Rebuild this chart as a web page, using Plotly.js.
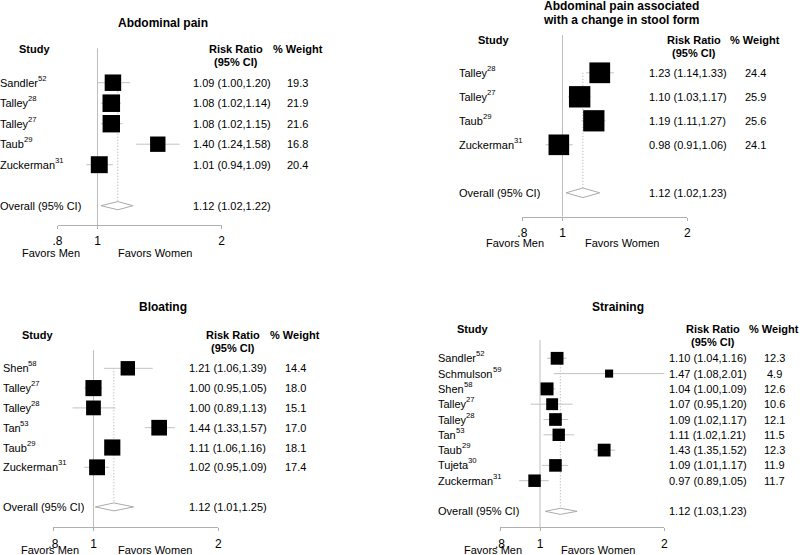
<!DOCTYPE html>
<html><head><meta charset="utf-8">
<script src="https://cdn.plot.ly/plotly-3.0.1.min.js"></script>
<style>html,body{margin:0;padding:0;background:#fff}#chart{width:800px;height:555px}</style>
</head><body><div id="chart"></div>
<script>
// ---------------- DATA ----------------
const tickVals = [0.8, 1, 2];
const tickText = ['.8', '1', '2'];
const nullValue = 1;

// Panel 1: Abdominal pain
const apStudies = ['Sandler', 'Talley', 'Talley', 'Taub', 'Zuckerman'];
const apRefs    = ['52', '28', '27', '29', '31'];
const apRR      = [1.09, 1.08, 1.08, 1.40, 1.01];
const apLo      = [1.00, 1.02, 1.02, 1.24, 0.94];
const apHi      = [1.20, 1.14, 1.15, 1.58, 1.09];
const apWeight  = [19.3, 21.9, 21.6, 16.8, 20.4];
const apOverall = [1.12, 1.02, 1.22];

// Panel 2: Abdominal pain associated with a change in stool form
const acStudies = ['Talley', 'Talley', 'Taub', 'Zuckerman'];
const acRefs    = ['28', '27', '29', '31'];
const acRR      = [1.23, 1.10, 1.19, 0.98];
const acLo      = [1.14, 1.03, 1.11, 0.91];
const acHi      = [1.33, 1.17, 1.27, 1.06];
const acWeight  = [24.4, 25.9, 25.6, 24.1];
const acOverall = [1.12, 1.02, 1.23];

// Panel 3: Bloating
const blStudies = ['Shen', 'Talley', 'Talley', 'Tan', 'Taub', 'Zuckerman'];
const blRefs    = ['58', '27', '28', '53', '29', '31'];
const blRR      = [1.21, 1.00, 1.00, 1.44, 1.11, 1.02];
const blLo      = [1.06, 0.95, 0.89, 1.33, 1.06, 0.95];
const blHi      = [1.39, 1.05, 1.13, 1.57, 1.16, 1.09];
const blWeight  = [14.4, 18.0, 15.1, 17.0, 18.1, 17.4];
const blOverall = [1.12, 1.01, 1.25];

// Panel 4: Straining
const stStudies = ['Sandler', 'Schmulson', 'Shen', 'Talley', 'Talley', 'Tan', 'Taub', 'Tujeta', 'Zuckerman'];
const stRefs    = ['52', '59', '58', '27', '28', '53', '29', '30', '31'];
const stRR      = [1.10, 1.47, 1.04, 1.07, 1.09, 1.11, 1.43, 1.09, 0.97];
const stLo      = [1.04, 1.08, 1.00, 0.95, 1.02, 1.02, 1.35, 1.01, 0.89];
const stHi      = [1.16, 2.01, 1.09, 1.20, 1.17, 1.21, 1.52, 1.17, 1.05];
const stWeight  = [12.3, 4.9, 12.6, 10.6, 12.1, 11.5, 12.3, 11.9, 11.7];
const stOverall = [1.12, 1.03, 1.23];

// ---------------- LAYOUT CONFIG (pixels) ----------------
const W = 800, H = 555;
const FONT = '"Liberation Sans", Arial, Helvetica, sans-serif';
const FS = 11, SUP_FS = 7.7;
const panels = [
  {title: ['Abdominal pain'], titleX: 163, titleY: [22.7],
   studies: apStudies, refs: apRefs, rr: apRR, lo: apLo, hi: apHi, w: apWeight, overall: apOverall,
   x0: 57.5, x1: 221.7, row1Y: 82.7, rowH: 20.5, axisY: 225, refTop: 48.3, box: 3.75,
   headY: 49.3, ciY: 62, studyX: 0, studyHX: 34, rrX: 192.7, rrHX: 235.5, wX: 297.5,
   favY: 253.3, menX: 50.8, womenX: 155.2},
  {title: ['Abdominal pain associated', 'with a change in stool form'], titleX: 621.3, titleY: [5.5, 19.8],
   studies: acStudies, refs: acRefs, rr: acRR, lo: acLo, hi: acHi, w: acWeight, overall: acOverall,
   x0: 522.3, x1: 687.3, row1Y: 72.8, rowH: 24, axisY: 216.7, refTop: 35, box: 4.2,
   headY: 40, ciY: 53.3, studyX: 459, studyHX: 493, rrX: 649, rrHX: 693.7, wX: 755,
   favY: 243.3, menX: 515, womenX: 622},
  {title: ['Bloating'], titleX: 162.5, titleY: [306.7],
   studies: blStudies, refs: blRefs, rr: blRR, lo: blLo, hi: blHi, w: blWeight, overall: blOverall,
   x0: 53.3, x1: 218.3, row1Y: 368.3, rowH: 19.8, axisY: 527.3, refTop: 350, box: 3.8,
   headY: 335, ciY: 348.3, studyX: 2.7, studyHX: 37, rrX: 189.3, rrHX: 233, wX: 295,
   favY: 550, menX: 49.8, womenX: 154.5},
  {title: ['Straining'], titleX: 618.3, titleY: [306.7],
   studies: stStudies, refs: stRefs, rr: stRR, lo: stLo, hi: stHi, w: stWeight, overall: stOverall,
   x0: 500, x1: 664.3, row1Y: 358.3, rowH: 15.3, axisY: 527.3, refTop: 340, box: 3.65,
   headY: 329, ciY: 341.7, studyX: 438.3, studyHX: 472.3, rrX: 669.3, rrHX: 713, wX: 774,
   favY: 550, menX: 492.5, womenX: 597.5}
];

const C_REF = '#bdbdbd', C_CI = '#c2c2c2', C_AXIS = '#b0b0b0', C_DOT = '#a8a8a8', C_DIA = '#ababab';

// text measurement for placing reference superscripts after study names
const mctx = document.createElement('canvas').getContext('2d');
mctx.font = FS + 'px ' + FONT;
const textW = s => mctx.measureText(s).width;

const data = [];
const annotations = [];
const layout = {
  width: W, height: H, margin: {l: 0, r: 0, t: 0, b: 0},
  paper_bgcolor: '#fff', plot_bgcolor: 'rgba(0,0,0,0)', showlegend: false,
  font: {family: FONT, size: FS, color: '#000'},
  annotations: annotations
};

function addAnn(text, x, y, yref, opts) {
  annotations.push(Object.assign({
    text: text, x: x / W, xref: 'paper', y: y, yref: yref,
    showarrow: false, xanchor: 'center', yanchor: 'middle',
    borderpad: 0, borderwidth: 0,
    font: {family: FONT, size: FS, color: '#000'}
  }, opts || {}));
}
const py = v => 1 - v / H;
const fmt2 = v => v.toFixed(2);

panels.forEach((p, i) => {
  const sfx = i === 0 ? '' : String(i + 1);
  const xa = 'x' + sfx, ya = 'y' + sfx;
  const rowAt = px => 1 + (px - p.row1Y) / p.rowH;
  const n = p.studies.length;
  const rows = p.studies.map((_, j) => j + 1);
  const oRow = n + 2;
  const top = p.refTop - 2;

  layout['xaxis' + sfx] = {
    type: 'log', domain: [p.x0 / W, p.x1 / W], range: [Math.log10(0.8), Math.log10(2)],
    anchor: ya, tickmode: 'array', tickvals: tickVals, ticktext: tickText,
    showgrid: false, zeroline: false, showline: true, linecolor: C_AXIS, linewidth: 1,
    ticks: 'outside', ticklen: 3, tickcolor: C_AXIS, tickwidth: 1, ticklabelstandoff: 2,
    tickfont: {family: FONT, size: 12, color: '#000'}, fixedrange: true
  };
  layout['yaxis' + sfx] = {
    domain: [py(p.axisY), py(top)], range: [rowAt(p.axisY), rowAt(top)],
    anchor: xa, visible: false, showgrid: false, zeroline: false, fixedrange: true
  };

  // reference line at null value
  data.push({x: [nullValue, nullValue], y: [rowAt(p.refTop), rowAt(p.axisY)], xaxis: xa, yaxis: ya,
    mode: 'lines', line: {color: C_REF, width: 1}, hoverinfo: 'skip', cliponaxis: false});
  // dotted line at overall estimate
  data.push({x: [p.overall[0], p.overall[0]], y: [1, oRow], xaxis: xa, yaxis: ya,
    mode: 'lines', line: {color: C_DOT, width: 1, dash: '1px,2px'}, hoverinfo: 'skip', cliponaxis: false});
  // CI lines
  const cx = [], cy = [];
  rows.forEach((r, j) => { cx.push(p.lo[j], p.hi[j], null); cy.push(r, r, null); });
  data.push({x: cx, y: cy, xaxis: xa, yaxis: ya, mode: 'lines', line: {color: C_CI, width: 1},
    hoverinfo: 'skip', cliponaxis: false, connectgaps: false});
  // boxes (area proportional to weight)
  data.push({x: p.rr, y: rows, xaxis: xa, yaxis: ya, mode: 'markers', cliponaxis: false, opacity: 1,
    marker: {symbol: 'square', color: '#000', opacity: 1, size: p.w.map(v => p.box * Math.sqrt(v)),
      line: {width: 0}},
    hoverinfo: 'skip'});
  // diamond for the overall estimate
  const h = 0.2;
  data.push({x: [p.overall[1], p.overall[0], p.overall[2], p.overall[0], p.overall[1]],
    y: [oRow, oRow - h, oRow, oRow + h, oRow], xaxis: xa, yaxis: ya, mode: 'lines',
    fill: 'toself', fillcolor: '#fff', line: {color: C_DIA, width: 1}, hoverinfo: 'skip', cliponaxis: false});

  // titles
  p.title.forEach((t, k) => addAnn('<b>' + t + '</b>', p.titleX, py(p.titleY[k]), 'paper',
    {font: {family: FONT, size: 12, color: '#000'}}));
  // headers
  addAnn('<b>Study</b>', p.studyHX, py(p.headY), 'paper');
  addAnn('<b>Risk Ratio</b>', p.rrHX, py(p.headY), 'paper');
  addAnn('<b>(95% CI)</b>', p.rrHX, py(p.ciY), 'paper');
  addAnn('<b>% Weight</b>', p.wX, py(p.headY), 'paper');
  // rows
  rows.forEach((r, j) => {
    addAnn(p.studies[j], p.studyX, r, ya, {xanchor: 'left'});
    addAnn(p.refs[j], p.studyX + textW(p.studies[j]), r, ya,
      {xanchor: 'left', yshift: 4.5, font: {family: FONT, size: SUP_FS, color: '#000'}});
    addAnn(fmt2(p.rr[j]) + ' (' + fmt2(p.lo[j]) + ',' + fmt2(p.hi[j]) + ')', p.rrX, r, ya, {xanchor: 'left'});
    addAnn(p.w[j].toFixed(1), p.wX, r, ya);
  });
  addAnn('Overall (95% CI)', p.studyX, oRow, ya, {xanchor: 'left'});
  addAnn(fmt2(p.overall[0]) + ' (' + fmt2(p.overall[1]) + ',' + fmt2(p.overall[2]) + ')', p.rrX, oRow, ya, {xanchor: 'left'});
  // axis side labels
  addAnn('Favors Men', p.menX, py(p.favY), 'paper');
  addAnn('Favors Women', p.womenX, py(p.favY), 'paper');
});

Plotly.newPlot('chart', data, layout, {displayModeBar: false, staticPlot: true});
</script>
</body></html>
